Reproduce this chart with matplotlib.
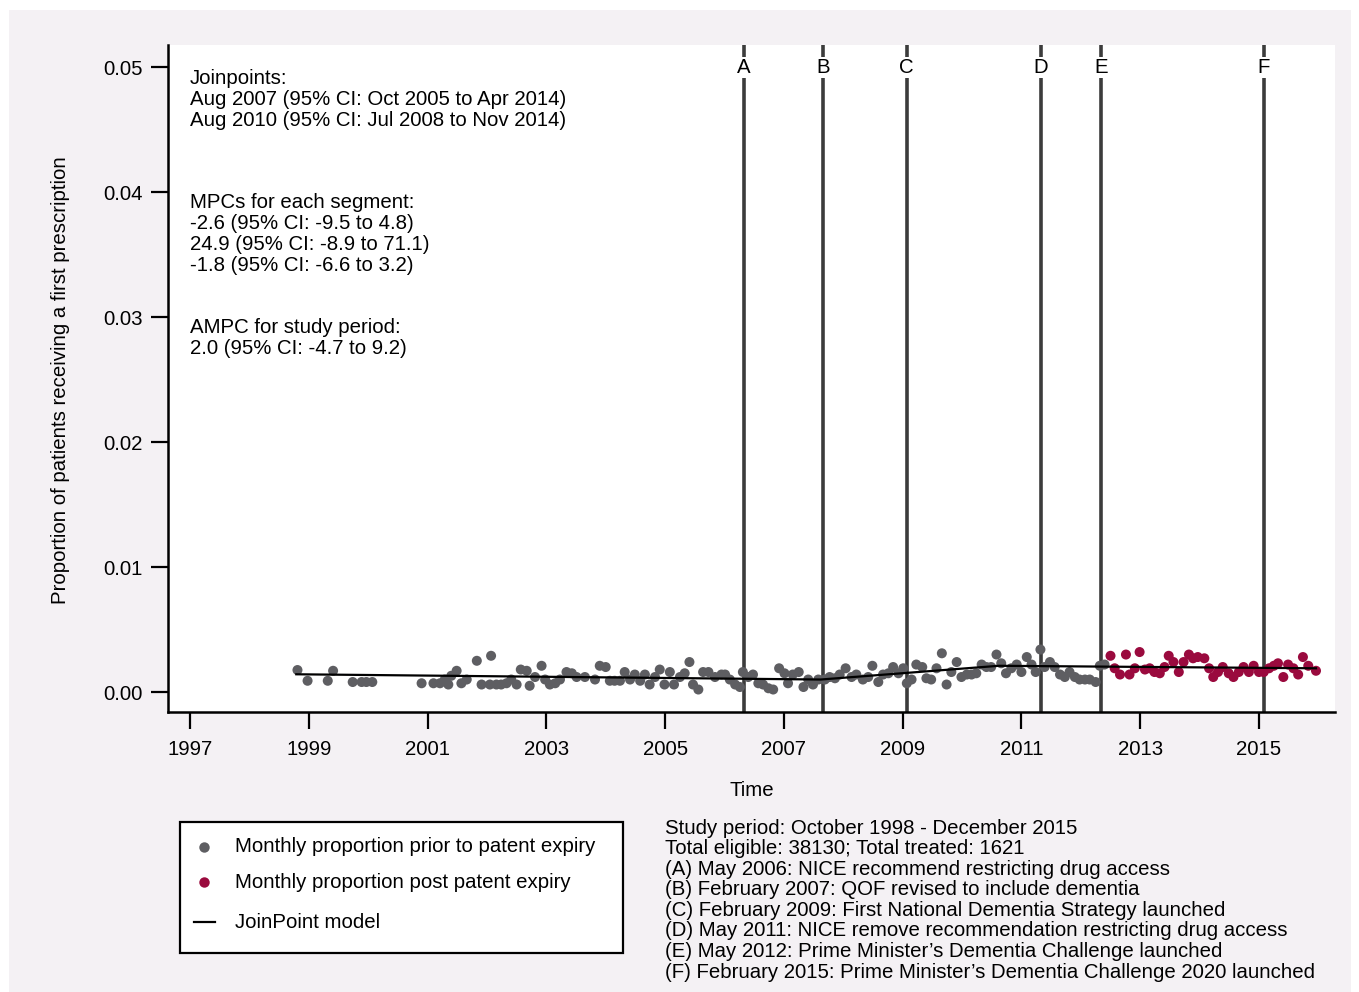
import matplotlib
matplotlib.use("Agg")
import matplotlib.pyplot as plt
from matplotlib.patches import Rectangle
from matplotlib.lines import Line2D

plt.rcParams['font.family'] = ['Liberation Sans', 'DejaVu Sans']

# ---------------- data ----------------
years_pre = [1998.81, 1998.98, 1999.32, 1999.41, 1999.74, 1999.89, 1999.97, 2000.07, 2000.90, 2001.10,
             2001.21, 2001.29, 2001.35, 2001.40, 2001.49, 2001.57, 2001.66, 2001.83, 2001.91, 2002.05,
             2002.07, 2002.16, 2002.24, 2002.33, 2002.41, 2002.50, 2002.57, 2002.67, 2002.72, 2002.81,
             2002.92, 2002.98, 2003.06, 2003.15, 2003.23, 2003.34, 2003.43, 2003.51, 2003.65, 2003.82,
             2003.90, 2004.00, 2004.07, 2004.15, 2004.24, 2004.32, 2004.41, 2004.49, 2004.58, 2004.66,
             2004.74, 2004.83, 2004.91, 2004.99, 2005.08, 2005.15, 2005.25, 2005.33, 2005.41, 2005.47,
             2005.56, 2005.64, 2005.73, 2005.84, 2005.95, 2006.01, 2006.09, 2006.18, 2006.26, 2006.31,
             2006.40, 2006.48, 2006.57, 2006.65, 2006.74, 2006.82, 2006.92, 2007.01, 2007.07, 2007.15,
             2007.25, 2007.33, 2007.41, 2007.49, 2007.58, 2007.69, 2007.77, 2007.86, 2007.94, 2008.04,
             2008.14, 2008.22, 2008.33, 2008.42, 2008.49, 2008.59, 2008.67, 2008.76, 2008.84, 2008.93,
             2009.01, 2009.07, 2009.15, 2009.23, 2009.33, 2009.40, 2009.48, 2009.57, 2009.66, 2009.74,
             2009.82, 2009.91, 2009.99, 2010.08, 2010.16, 2010.24, 2010.33, 2010.41, 2010.49, 2010.58,
             2010.66, 2010.74, 2010.83, 2010.92, 2011.00, 2011.09, 2011.17, 2011.24, 2011.32, 2011.39,
             2011.48, 2011.56, 2011.65, 2011.73, 2011.81, 2011.90, 2011.98, 2012.07, 2012.15, 2012.25,
             2012.32, 2012.40]
vals_pre = [0.00176, 0.0009, 0.0009, 0.0017, 0.0008, 0.0008, 0.0008, 0.0008, 0.0007, 0.0007,
            0.0007, 0.0010, 0.0006, 0.0013, 0.0017, 0.0007, 0.0010, 0.0025, 0.0006, 0.0006,
            0.0029, 0.0006, 0.0006, 0.0007, 0.0010, 0.0006, 0.0018, 0.0017, 0.0005, 0.0012,
            0.0021, 0.0010, 0.0006, 0.0007, 0.0010, 0.0016, 0.0015, 0.0012, 0.0012, 0.0010,
            0.0021, 0.0020, 0.0009, 0.0009, 0.0009, 0.0016, 0.0010, 0.0014, 0.0009, 0.0014,
            0.0006, 0.0012, 0.0018, 0.0006, 0.0016, 0.0006, 0.0012, 0.0015, 0.0024, 0.0006,
            0.0002, 0.0016, 0.0016, 0.0012, 0.0014, 0.0014, 0.0010, 0.0006, 0.0004, 0.0016,
            0.0012, 0.0014, 0.0007, 0.0006, 0.0003, 0.0002, 0.0019, 0.0015, 0.0007, 0.0014,
            0.0016, 0.0004, 0.0010, 0.0006, 0.0010, 0.0010, 0.0012, 0.0011, 0.0014, 0.0019,
            0.0012, 0.0014, 0.0010, 0.0012, 0.0021, 0.0008, 0.0014, 0.0015, 0.0020, 0.0015,
            0.0019, 0.0007, 0.0010, 0.0022, 0.0020, 0.0011, 0.0010, 0.0019, 0.0031, 0.0006,
            0.0016, 0.0024, 0.0012, 0.0014, 0.0014, 0.0015, 0.0022, 0.0020, 0.0020, 0.0030,
            0.0023, 0.0015, 0.0019, 0.0022, 0.0016, 0.0028, 0.0022, 0.0016, 0.0034, 0.0020,
            0.0024, 0.0020, 0.0014, 0.0012, 0.0016, 0.0012, 0.0010, 0.0010, 0.0010, 0.0008,
            0.0021, 0.0022]

years_post = [2012.50, 2012.57, 2012.66, 2012.76, 2012.82, 2012.91, 2012.99, 2013.08, 2013.16, 2013.24,
              2013.33, 2013.41, 2013.48, 2013.56, 2013.65, 2013.73, 2013.82, 2013.89, 2013.97, 2014.08,
              2014.16, 2014.23, 2014.31, 2014.39, 2014.49, 2014.57, 2014.66, 2014.74, 2014.83, 2014.91,
              2015.00, 2015.08, 2015.17, 2015.25, 2015.32, 2015.41, 2015.49, 2015.58, 2015.66, 2015.74,
              2015.83, 2015.96]
vals_post = [0.0029, 0.0019, 0.0014, 0.0030, 0.0014, 0.0019, 0.0032, 0.0018, 0.0019, 0.0016,
             0.0015, 0.0020, 0.0029, 0.0024, 0.0016, 0.0024, 0.0030, 0.0027, 0.0028, 0.0027,
             0.0019, 0.0012, 0.0016, 0.0020, 0.0015, 0.0012, 0.0016, 0.0020, 0.0016, 0.0021,
             0.0016, 0.0016, 0.0019, 0.0021, 0.0023, 0.0012, 0.0022, 0.0019, 0.0014, 0.0028,
             0.0021, 0.0017]

jp_years = [1998.79, 2007.62, 2010.62, 2015.96]
jp_vals = [0.00142, 0.00100, 0.00210, 0.00190]

event_years = [2006.33, 2007.66, 2009.07, 2011.33, 2012.34, 2015.08]
event_labels = ['A', 'B', 'C', 'D', 'E', 'F']

xticks = [1997, 1999, 2001, 2003, 2005, 2007, 2009, 2011, 2013, 2015]
yticks = [0.00, 0.01, 0.02, 0.03, 0.04, 0.05]

info_lines = [
    "Study period: October 1998 - December 2015",
    "Total eligible: 38130; Total treated: 1621",
    "(A) May 2006: NICE recommend restricting drug access",
    "(B) February 2007: QOF revised to include dementia",
    "(C) February 2009: First National Dementia Strategy launched",
    "(D) May 2011: NICE remove recommendation restricting drug access",
    "(E) May 2012: Prime Minister\u2019s Dementia Challenge launched",
    "(F) February 2015: Prime Minister\u2019s Dementia Challenge 2020 launched",
]
annot_blocks = [
    ["Joinpoints:",
     "Aug 2007 (95% CI: Oct 2005 to Apr 2014)",
     "Aug 2010 (95% CI: Jul 2008 to Nov 2014)"],
    ["MPCs for each segment:",
     "-2.6 (95% CI: -9.5 to 4.8)",
     "24.9 (95% CI: -8.9 to 71.1)",
     "-1.8 (95% CI: -6.6 to 3.2)"],
    ["AMPC for study period:",
     "2.0 (95% CI: -4.7 to 9.2)"],
]

# ---------------- figure ----------------
W, H = 1359, 992
fig = plt.figure(figsize=(W / 100, H / 100), dpi=100, facecolor='white')

def fx(px):
    return px / W

def fy(py):
    return 1 - py / H

fig.add_artist(Rectangle((fx(9), 0), fx(1351) - fx(9), fy(10), transform=fig.transFigure,
                         facecolor='#f4f1f4', edgecolor='none', zorder=0))

ax = fig.add_axes([fx(168), fy(712), fx(1335) - fx(168), fy(45) - fy(712)])
ax.set_facecolor('white')
ax.set_xlim(1996.63, 2016.28)
ax.set_ylim(-0.0016, 0.0518)

FS = 14.7
gray = '#5e5e62'
red = '#9a0a3e'

for xv, lab in zip(event_years, event_labels):
    ax.axvline(xv, color='#3c3c3c', lw=2.6, zorder=2)
    ax.text(xv, 0.05, lab, ha='center', va='center', fontsize=FS, zorder=3,
            bbox=dict(facecolor='white', edgecolor='none', pad=1.0))

ax.scatter(years_pre, vals_pre, s=52, color=gray, edgecolors='none', zorder=4)
ax.scatter(years_post, vals_post, s=52, color=red, edgecolors='none', zorder=4)
ax.plot(jp_years, jp_vals, color='black', lw=1.6, zorder=5)

ax.set_xticks(xticks)
ax.set_xticklabels([str(t) for t in xticks])
ax.set_yticks(yticks)
ax.set_yticklabels(['%.2f' % t for t in yticks])
ax.tick_params(axis='both', labelsize=FS, length=12, width=1.6, direction='out', colors='black')
ax.tick_params(axis='x', pad=8)
ax.tick_params(axis='y', pad=6)
for s in ['top', 'right']:
    ax.spines[s].set_visible(False)
for s in ['left', 'bottom']:
    ax.spines[s].set_linewidth(1.8)

# axis titles
fig.text(fx(60), fy(380), "Proportion of patients receiving a first prescription", rotation=90,
         ha='center', va='center', fontsize=FS)
fig.text(fx(752), fy(791), "Time", ha='center', va='center', fontsize=FS)

# annotation blocks inside plot
block_tops = [79, 203, 328]
LS = 20.7
for top, lines in zip(block_tops, annot_blocks):
    for i, ln in enumerate(lines):
        fig.text(fx(190), fy(top + i * LS), ln, ha='left', va='center', fontsize=FS)

# legend box
fig.add_artist(Rectangle((fx(180), fy(953)), fx(623) - fx(180), fy(822) - fy(953),
                         transform=fig.transFigure, facecolor='white', edgecolor='black',
                         lw=1.6, zorder=2))
leg_items = [("Monthly proportion prior to patent expiry", 847, 'pt', gray),
             ("Monthly proportion post patent expiry", 882, 'pt', red),
             ("JoinPoint model", 922, 'ln', 'black')]
for label, py, kind, col in leg_items:
    if kind == 'pt':
        fig.add_artist(Line2D([fx(204)], [fy(py)], marker='o', markersize=7.5, color=col,
                              markeredgecolor='none', linestyle='none',
                              transform=fig.transFigure, zorder=3))
    else:
        fig.add_artist(Line2D([fx(194), fx(215)], [fy(py), fy(py)], color=col, lw=1.6,
                              transform=fig.transFigure, zorder=3))
    fig.text(fx(235), fy(py), label, ha='left', va='center', fontsize=FS, zorder=4)

# right-side info text
for i, ln in enumerate(info_lines):
    fig.text(fx(665), fy(828 + i * 20.6), ln, ha='left', va='center', fontsize=FS)

fig.savefig('out.png', dpi=100, facecolor='white')
